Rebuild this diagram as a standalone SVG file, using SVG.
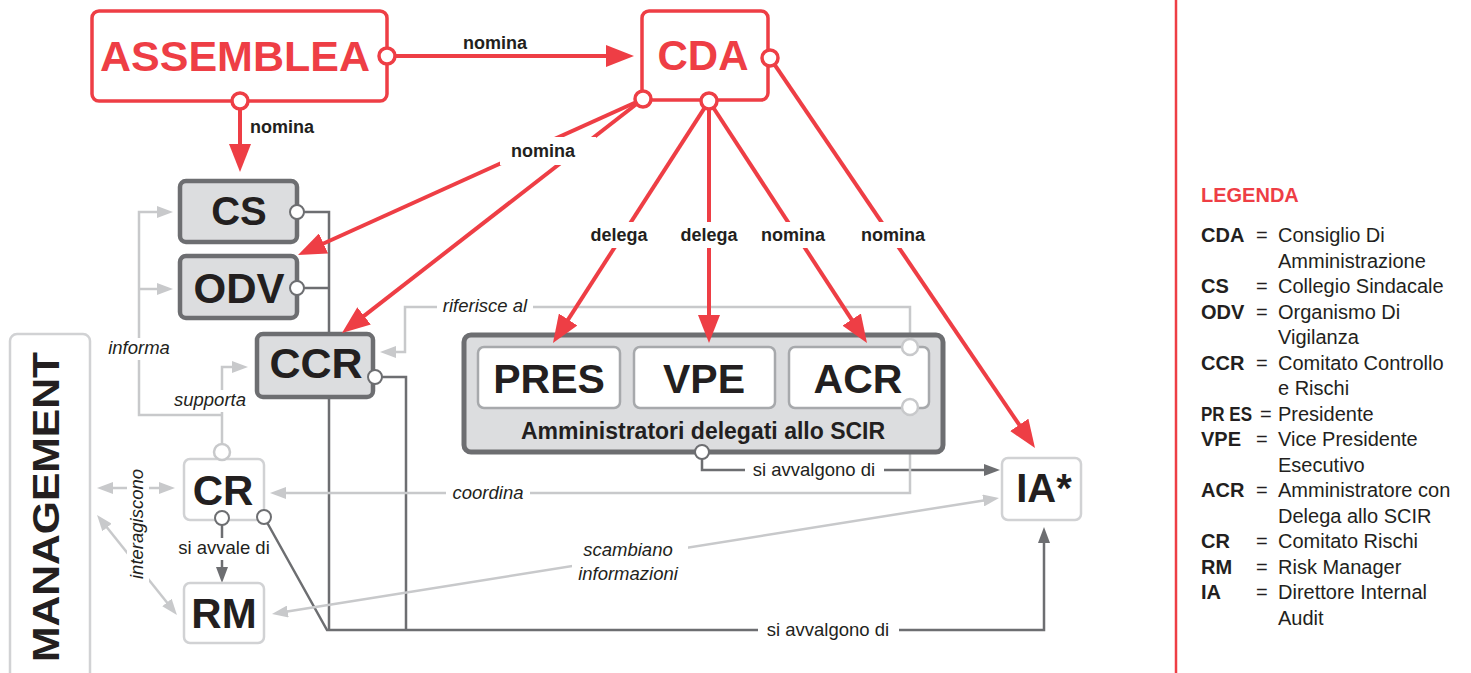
<svg xmlns="http://www.w3.org/2000/svg" width="1471" height="673" viewBox="0 0 1471 673">
<style>
text{font-family:"Liberation Sans",Arial,Helvetica,sans-serif;fill:#231f20}
.red{stroke:#ee3e45;stroke-width:4;fill:none}
.dk{stroke:#6d6e71;stroke-width:2.5;fill:none}
.lt{stroke:#c8c9cb;stroke-width:2.5;fill:none}
.bg{fill:#fff}
.nl{font-size:18px;font-weight:bold;text-anchor:middle}
.it{font-size:18.5px;font-style:italic;text-anchor:middle}
.rg{font-size:18.5px;text-anchor:middle}
.redbox{fill:#fff;stroke:#ee3e45;stroke-width:3.5}
.redtxt{fill:#ee3e45;font-weight:bold;text-anchor:middle}
.redport{fill:#fff;stroke:#ee3e45;stroke-width:3.5}
.graybox{fill:#dcdddf;stroke:#6d6e71;stroke-width:4.5}
.inbox{fill:#fff;stroke:#a7a9ac;stroke-width:2.5}
.ltbox{fill:#fff;stroke:#d1d2d4;stroke-width:2.5}
.big{font-weight:bold;text-anchor:middle}
.dkport{fill:#fff;stroke:#6d6e71;stroke-width:2}
.ltport{fill:#fff;stroke:#c8c9cb;stroke-width:2.5}
.lg{font-size:20px}
.lgb{font-size:20px;font-weight:bold}
</style>
<defs>
<marker id="ar" markerUnits="userSpaceOnUse" markerWidth="28" markerHeight="22" refX="20" refY="11" orient="auto"><path d="M0,0 L28,11 L0,22 z" fill="#ee3e45"/></marker>
<marker id="ad" markerUnits="userSpaceOnUse" markerWidth="16" markerHeight="12" refX="10" refY="6" orient="auto"><path d="M0,0 L16,6 L0,12 z" fill="#6d6e71"/></marker>
<marker id="al" markerUnits="userSpaceOnUse" markerWidth="16" markerHeight="12" refX="10" refY="6" orient="auto-start-reverse"><path d="M0,0 L16,6 L0,12 z" fill="#c8c9cb"/></marker>
</defs>
<rect width="1471" height="673" fill="#fff"/>

<g id="connectors-back">
<path class="dk" d="M297,212 H329 V630"/>
<path class="dk" d="M297,288 H329"/>
<path class="dk" d="M375,377 H406 V630"/>
<path class="dk" d="M264,517 L327,630 H1044 V533" marker-end="url(#ad)"/>
<path class="dk" d="M222,518 V577" marker-end="url(#ad)"/>
<path class="dk" d="M702,452 V470 H994" marker-end="url(#ad)"/>
<path class="lt" d="M222,452 V367 H242" marker-end="url(#al)"/>
<path class="lt" d="M222,415 H139 V212 H167" marker-end="url(#al)"/>
<path class="lt" d="M139,289 H167" marker-end="url(#al)"/>
<path class="lt" d="M910,347 V307 H405 V352 H386" marker-end="url(#al)"/>
<path class="lt" d="M910,407 V493 H276" marker-end="url(#al)"/>
<path class="lt" d="M103,488 H169" marker-start="url(#al)" marker-end="url(#al)"/>
<path class="lt" d="M100.8,519.7 L173.2,610.3" marker-start="url(#al)" marker-end="url(#al)"/>
<path class="lt" d="M277.9,613.1 L993.1,498.9" marker-start="url(#al)" marker-end="url(#al)"/>
<rect class="bg" x="104" y="338" width="70" height="22"/>
<text class="it" x="139" y="354">informa</text>
<rect class="bg" x="170" y="390" width="80" height="22"/>
<text class="it" x="210" y="406">supporta</text>
<rect class="bg" x="437" y="296" width="96" height="22"/>
<text class="it" x="485" y="312">riferisce al</text>
<rect class="bg" x="446" y="482" width="84" height="22"/>
<text class="it" x="488" y="499">coordina</text>
<rect class="bg" x="572" y="538" width="116" height="48"/>
<text class="it" x="628" y="556">scambiano</text>
<text class="it" x="628" y="580">informazioni</text>
<rect class="bg" x="127" y="468" width="22" height="114"/>
<text class="it" transform="translate(143,524) rotate(-90)">interagiscono</text>
<rect class="bg" x="176" y="538" width="96" height="22"/>
<text class="rg" x="224" y="554">si avvale di</text>
<rect class="bg" x="745" y="460" width="139" height="22"/>
<text class="rg" x="814" y="476">si avvalgono di</text>
<rect class="bg" x="758" y="619" width="141" height="22"/>
<text class="rg" x="828" y="636">si avvalgono di</text>
</g>

<g id="node-assemblea">
<rect class="redbox" x="92" y="11" width="295" height="90" rx="7"/>
<text class="redtxt" x="235" y="71" font-size="43">ASSEMBLEA</text>
<circle class="redport" cx="387" cy="56" r="8"/>
<circle class="redport" cx="240" cy="101" r="8"/>
</g>
<g id="node-cda">
<rect class="redbox" x="642" y="11" width="126" height="89" rx="7"/>
<text class="redtxt" x="703" y="70" font-size="42">CDA</text>
<circle class="redport" cx="770" cy="58" r="8"/>
<circle class="redport" cx="643" cy="99" r="8"/>
<circle class="redport" cx="709" cy="101" r="8"/>
</g>
<g id="node-cs">
<rect class="graybox" x="180" y="181" width="117" height="61" rx="6"/>
<text class="big" x="239" y="225" font-size="40">CS</text>
<circle class="dkport" cx="297" cy="212" r="7"/>
</g>
<g id="node-odv">
<rect class="graybox" x="180" y="256" width="117" height="62" rx="6"/>
<text class="big" x="239" y="303" font-size="42">ODV</text>
<circle class="dkport" cx="297" cy="288" r="7"/>
</g>
<g id="node-ccr">
<rect class="graybox" x="257" y="334" width="116" height="63" rx="6"/>
<text class="big" x="316" y="378" font-size="43">CCR</text>
<circle class="dkport" cx="375" cy="377" r="7"/>
</g>
<g id="node-amministratori">
<rect x="464" y="335" width="479" height="117" rx="7" fill="#dcdddf" stroke="#6d6e71" stroke-width="5"/>
<text class="big" x="703" y="439" font-size="23">Amministratori delegati allo SCIR</text>
<circle class="dkport" cx="702" cy="452" r="7"/>
</g>
<g id="node-pres">
<rect class="inbox" x="478" y="347" width="142" height="61" rx="6"/>
<text class="big" x="549" y="393" font-size="41">PRES</text>
</g>
<g id="node-vpe">
<rect class="inbox" x="634" y="347" width="141" height="61" rx="6"/>
<text class="big" x="704" y="393" font-size="41">VPE</text>
</g>
<g id="node-acr">
<rect class="inbox" x="789" y="347" width="140" height="61" rx="6"/>
<text class="big" x="858" y="393" font-size="41">ACR</text>
<circle class="ltport" cx="910" cy="347" r="8"/>
<circle class="ltport" cx="910" cy="407" r="8"/>
</g>
<g id="node-ia">
<rect class="ltbox" x="1002" y="458" width="79" height="62" rx="6"/>
<text class="big" x="1044" y="502" font-size="40">IA*</text>
</g>
<g id="node-cr">
<rect class="ltbox" x="184" y="459" width="80" height="61" rx="6"/>
<text class="big" x="223" y="505" font-size="42">CR</text>
<circle class="ltport" cx="222" cy="452" r="8"/>
<circle class="dkport" cx="222" cy="518" r="7"/>
<circle class="dkport" cx="264" cy="517" r="7"/>
</g>
<g id="node-rm">
<rect class="ltbox" x="184" y="583" width="80" height="60" rx="6"/>
<text class="big" x="224" y="628" font-size="42">RM</text>
</g>
<g id="node-management">
<rect class="ltbox" x="10" y="334" width="80" height="360" rx="7"/>
<text class="big" transform="translate(59,507) rotate(-90)" font-size="37" textLength="310" lengthAdjust="spacingAndGlyphs">MANAGEMENT</text>
</g>

<g id="connectors">
<path class="red" d="M396,56 H626" marker-end="url(#ar)"/>
<path class="red" d="M240,110 V164" marker-end="url(#ar)"/>
<path class="red" d="M634.8,102.7 L305.3,251.7" marker-end="url(#ar)"/>
<path class="red" d="M635.9,104.5 L348.3,328.1" marker-end="url(#ar)"/>
<path class="red" d="M704.1,108.6 L557.3,336.3" marker-end="url(#ar)"/>
<path class="red" d="M709,110 V335" marker-end="url(#ar)"/>
<path class="red" d="M713.9,108.5 L862.6,336.3" marker-end="url(#ar)"/>
<path class="red" d="M775.1,65.4 L1030.5,441.4" marker-end="url(#ar)"/>
<text class="nl" x="495" y="49">nomina</text>
<text class="nl" x="282" y="133">nomina</text>
<rect class="bg" x="500" y="137" width="96" height="28"/>
<text class="nl" x="543" y="157">nomina</text>
<rect class="bg" x="584" y="222" width="70" height="26"/>
<text class="nl" x="619" y="241">delega</text>
<rect class="bg" x="674" y="222" width="70" height="26"/>
<text class="nl" x="709" y="241">delega</text>
<rect class="bg" x="757" y="222" width="73" height="26"/>
<text class="nl" x="793" y="241">nomina</text>
<rect class="bg" x="857" y="222" width="73" height="26"/>
<text class="nl" x="893" y="241">nomina</text>
</g>

<g id="legend">
<line x1="1176" y1="0" x2="1176" y2="673" stroke="#ee3e45" stroke-width="2.5"/>
<text x="1201" y="202" font-size="20" font-weight="bold" style="fill:#ee3e45">LEGENDA</text>
<text class="lgb" x="1201" y="242">CDA</text><text class="lg" x="1256" y="242">=</text><text class="lg" x="1278" y="242">Consiglio Di</text>
<text class="lg" x="1278" y="267.5">Amministrazione</text>
<text class="lgb" x="1201" y="293">CS</text><text class="lg" x="1256" y="293">=</text><text class="lg" x="1278" y="293">Collegio Sindacale</text>
<text class="lgb" x="1201" y="318.5">ODV</text><text class="lg" x="1256" y="318.5">=</text><text class="lg" x="1278" y="318.5">Organismo Di</text>
<text class="lg" x="1278" y="344">Vigilanza</text>
<text class="lgb" x="1201" y="369.5">CCR</text><text class="lg" x="1256" y="369.5">=</text><text class="lg" x="1278" y="369.5">Comitato Controllo</text>
<text class="lg" x="1278" y="395">e Rischi</text>
<text class="lgb" x="1201" y="420.5" textLength="51" lengthAdjust="spacingAndGlyphs">PR ES</text><text class="lg" x="1260" y="420.5" font-size="18">=</text><text class="lg" x="1278" y="420.5">Presidente</text>
<text class="lgb" x="1201" y="446">VPE</text><text class="lg" x="1256" y="446">=</text><text class="lg" x="1278" y="446">Vice Presidente</text>
<text class="lg" x="1278" y="471.5">Esecutivo</text>
<text class="lgb" x="1201" y="497">ACR</text><text class="lg" x="1256" y="497">=</text><text class="lg" x="1278" y="497">Amministratore con</text>
<text class="lg" x="1278" y="522.5">Delega allo SCIR</text>
<text class="lgb" x="1201" y="548">CR</text><text class="lg" x="1256" y="548">=</text><text class="lg" x="1278" y="548">Comitato Rischi</text>
<text class="lgb" x="1201" y="573.5">RM</text><text class="lg" x="1256" y="573.5">=</text><text class="lg" x="1278" y="573.5">Risk Manager</text>
<text class="lgb" x="1201" y="599">IA</text><text class="lg" x="1256" y="599">=</text><text class="lg" x="1278" y="599">Direttore Internal</text>
<text class="lg" x="1278" y="624.5">Audit</text>
</g>
</svg>
